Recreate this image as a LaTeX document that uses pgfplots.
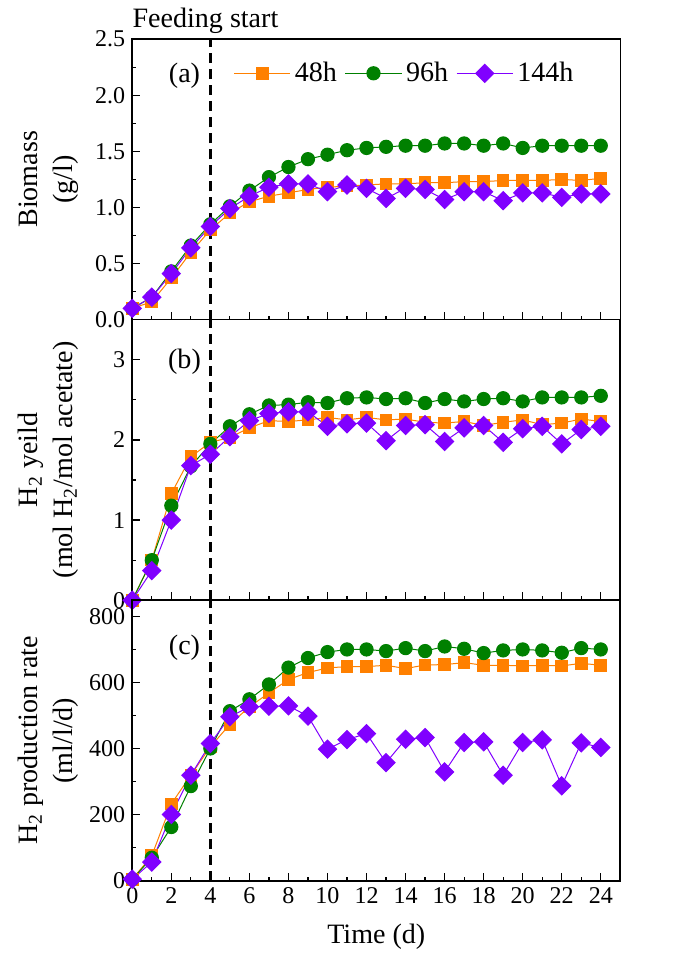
\documentclass[border=0pt]{standalone}
\usepackage{fontspec}
\setmainfont{Liberation Serif}
\usepackage{pgfplots}
\usepackage{pgfplotstable}
\pgfplotsset{compat=1.18}

\definecolor{c48}{RGB}{255,128,0}
\definecolor{c96}{RGB}{0,128,0}
\definecolor{c144}{RGB}{128,0,255}

% columns: time, 48h, 96h, 144h
\pgfplotstableread{
t  o     g     p
0  0.10  0.10  0.10
1  0.16  0.20  0.20
2  0.37  0.43  0.41
3  0.60  0.66  0.64
4  0.80  0.85  0.83
5  0.95  1.01  0.99
6  1.05  1.15  1.10
7  1.10  1.27  1.18
8  1.13  1.36  1.21
9  1.16  1.43  1.21
10 1.18  1.47  1.14
11 1.19  1.51  1.20
12 1.20  1.53  1.17
13 1.21  1.54  1.08
14 1.21  1.55  1.17
15 1.22  1.55  1.16
16 1.22  1.57  1.07
17 1.23  1.57  1.14
18 1.23  1.55  1.14
19 1.24  1.57  1.06
20 1.24  1.53  1.13
21 1.24  1.55  1.13
22 1.25  1.55  1.09
23 1.24  1.55  1.12
24 1.26  1.55  1.12
}\biomass

\pgfplotstableread{
t  o     g     p
0  0     0     0
1  0.50  0.50  0.37
2  1.33  1.18  1.00
3  1.79  1.67  1.68
4  1.97  1.95  1.82
5  2.03  2.17  2.04
6  2.15  2.32  2.24
7  2.24  2.43  2.33
8  2.23  2.44  2.35
9  2.25  2.47  2.35
10 2.28  2.46  2.17
11 2.25  2.52  2.20
12 2.28  2.53  2.21
13 2.25  2.51  1.99
14 2.26  2.52  2.18
15 2.22  2.46  2.19
16 2.21  2.51  1.98
17 2.23  2.48  2.15
18 2.18  2.51  2.18
19 2.22  2.52  1.97
20 2.25  2.48  2.14
21 2.19  2.53  2.17
22 2.21  2.53  1.95
23 2.26  2.53  2.13
24 2.23  2.55  2.17
}\yieldtab

\pgfplotstableread{
t  o    g    p
0  5    5    5
1  76   70   57
2  233  163  201
3  320  287  320
4  406  401  416
5  474  514  497
6  527  550  527
7  569  595  529
8  610  646  530
9  631  675  499
10 645  693  399
11 649  701  428
12 649  701  446
13 653  696  358
14 643  705  429
15 654  696  434
16 655  710  330
17 661  703  419
18 653  690  421
19 653  698  320
20 651  701  419
21 653  698  427
22 651  691  288
23 659  705  418
24 653  701  404
}\ratetab

\tikzset{tag/.style={font=\fontsize{14}{16}\selectfont}}

\pgfplotsset{
  panel/.style={
    scale only axis,
    width=243.5pt, height=140pt,
    xmin=0, xmax=25,
    xtick={0,2,...,24},
    minor xtick={1,3,...,23},
    tick align=inside,
    xtick pos=bottom, ytick pos=left,
    major tick length=4pt, minor tick length=2pt,
    axis line style={line width=0.8pt},
    every tick/.style={black, line width=0.6pt},
    tick label style={font=\fontsize{12}{14}\selectfont},
    xlabel style={font=\fontsize{14}{17}\selectfont, yshift=-3pt},
    /pgf/number format/assume math mode=true,
    every axis y label/.style={at={(axis description cs:-0.172,0.5)}, rotate=90,
      anchor=center, align=center, font=\fontsize{14}{17.5}\selectfont},
    clip=false,
  },
  s48/.style={c48, line width=0.5pt, mark=square*, mark size=2.9pt, mark options={solid, fill=c48, draw=c48}},
  s96/.style={c96, line width=0.5pt, mark=*, mark size=3.3pt, mark options={solid, fill=c96, draw=c96}},
  s144/.style={c144, line width=0.5pt, mark=square*, mark size=3.2pt, mark options={solid, fill=c144, draw=c144, rotate=45}},
  feed/.style={black, line width=1.2pt, dash pattern=on 5pt off 3pt, forget plot},
}

\begin{document}
\begin{tikzpicture}
\begin{axis}[panel, name=a,
    ymin=0, ymax=2.5,
    ytick={0,0.5,...,2.5}, minor ytick={0.25,0.75,...,2.25},
    xticklabels={},
    yticklabel style={/pgf/number format/.cd, fixed, fixed zerofill, precision=1},
    ylabel={Biomass\\(g/l)},
    legend columns=3,
    legend style={draw=none, fill=none, at={(axis description cs:0.56,0.878)}, anchor=center,
      font=\fontsize{14}{16}\selectfont, /tikz/every even column/.append style={column sep=2pt}},
    legend image code/.code={\draw[mark repeat=2, mark phase=2] plot coordinates {(0pt,0pt) (14pt,0pt) (28pt,0pt)};},
  ]
  \addplot[feed] coordinates {(4,0) (4,2.5)};
  \addplot[s48] table[x=t, y=o] {\biomass};
  \addplot[s96] table[x=t, y=g] {\biomass};
  \addplot[s144] table[x=t, y=p] {\biomass};
  \legend{48h, 96h, 144h}
  \node[tag] at (axis description cs:0.107,0.87) {(a)};
  \node[tag, anchor=base] at (axis description cs:0.15,1.04) {Feeding start};
\end{axis}

\begin{axis}[panel, name=b, at={(a.south west)}, anchor=north west,
    ymin=0, ymax=3.5,
    ytick={0,1,2,3}, minor ytick={0.5,1.5,2.5},
    xticklabels={},
    ylabel={H\textsubscript{2} yeild\\(mol H\textsubscript{2}/mol acetate)},
  ]
  \addplot[feed] coordinates {(4,0) (4,3.5)};
  \addplot[s48] table[x=t, y=o] {\yieldtab};
  \addplot[s96] table[x=t, y=g] {\yieldtab};
  \addplot[s144] table[x=t, y=p] {\yieldtab};
  \node[tag] at (axis description cs:0.107,0.85) {(b)};
\end{axis}

\begin{axis}[panel, name=c, at={(b.south west)}, anchor=north west,
    ymin=0, ymax=850,
    ytick={0,200,...,800}, minor ytick={100,300,...,700},
    xlabel={Time (d)},
    ylabel={H\textsubscript{2} production rate\\(ml/l/d)},
  ]
  \addplot[feed] coordinates {(4,0) (4,850)};
  \addplot[s48] table[x=t, y=o] {\ratetab};
  \addplot[s96] table[x=t, y=g] {\ratetab};
  \addplot[s144] table[x=t, y=p] {\ratetab};
  \node[tag] at (axis description cs:0.107,0.832) {(c)};
\end{axis}

\path (a.north west) ++(-66pt,19.5pt) rectangle ([xshift=28pt,yshift=-40.5pt]c.south east);
\end{tikzpicture}
\end{document}
